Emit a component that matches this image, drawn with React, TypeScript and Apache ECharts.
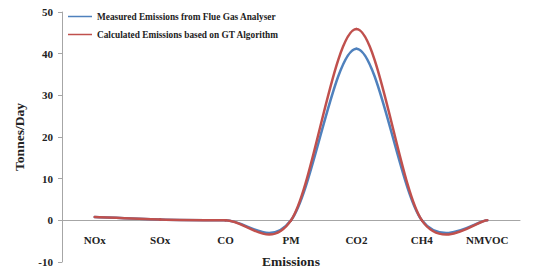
import React, { useEffect, useRef } from "react";
import * as echarts from "echarts";

const categories = ["NOx", "SOx", "CO", "PM", "CO2", "CH4", "NMVOC"];
const measured = [0.8, 0.2, 0, 0, 41.2, 0, 0];
const calculated = [0.8, 0.2, 0, 0, 45.9, 0, 0];
const seriesNames = [
  "Measured Emissions from Flue Gas Analyser",
  "Calculated Emissions based on GT Algorithm",
];
const seriesColors = ["#4F81BD", "#C0504D"];
const yMin = -10;
const yMax = 50;
const yInterval = 10;

const FONT = '"Liberation Serif", "Times New Roman", serif';
const W = 539;
const H = 271;
const GRID = { left: 62, right: 19, top: 12, bottom: 9 };

function makeSmoothSeries(name: string, values: number[], color: string) {
  const n = values.length;
  return {
    name,
    type: "custom",
    data: values.map((v, i) => [i, v]),
    itemStyle: { color },
    encode: { x: 0, y: 1 },
    renderItem: (params: any, api: any) => {
      const i = params.dataIndex;
      if (i >= n - 1) return null;
      const pt = (k: number) => {
        const kk = Math.max(0, Math.min(n - 1, k));
        return api.coord([kk, values[kk]]);
      };
      const p0 = pt(i - 1);
      const p1 = pt(i);
      const p2 = pt(i + 1);
      const p3 = pt(i + 2);
      const t = 1 / 6;
      return {
        type: "bezierCurve",
        shape: {
          x1: p1[0],
          y1: p1[1],
          cpx1: p1[0] + (p2[0] - p0[0]) * t,
          cpy1: p1[1] + (p2[1] - p0[1]) * t,
          cpx2: p2[0] - (p3[0] - p1[0]) * t,
          cpy2: p2[1] - (p3[1] - p1[1]) * t,
          x2: p2[0],
          y2: p2[1],
        },
        style: { stroke: color, lineWidth: 2.5, fill: null, lineCap: "round" },
      };
    },
  };
}

export default function App() {
  const ref = useRef<HTMLDivElement>(null);
  useEffect(() => {
    if (!ref.current) return;
    const chart = echarts.init(ref.current, undefined, { renderer: "svg" });
    const gridH = H - GRID.top - GRID.bottom;
    const zeroOffset = -gridH * ((0 - yMin) / (yMax - yMin));
    chart.setOption({
      animation: false,
      backgroundColor: "#ffffff",
      textStyle: { fontFamily: FONT },
      grid: { ...GRID, containLabel: false, outerBoundsMode: "none" },
      legend: {
        orient: "vertical",
        left: 68,
        top: 12,
        padding: 0,
        itemWidth: 24,
        itemHeight: 1.5,
        itemGap: 9,
        icon: "rect",
        textStyle: { fontFamily: FONT, fontWeight: "bold", fontSize: 9.3, color: "#222" },
        data: seriesNames.map((s, i) => ({ name: s, itemStyle: { color: seriesColors[i] } })),
      },
      xAxis: {
        type: "category",
        data: categories,
        boundaryGap: true,
        position: "bottom",
        offset: zeroOffset,
        axisLine: { onZero: false, lineStyle: { color: "#a6a6a6", width: 1 } },
        axisTick: { show: false },
        axisLabel: { fontFamily: FONT, fontWeight: "bold", fontSize: 11, color: "#222", margin: 14 },
        name: "Emissions",
        nameLocation: "middle",
        nameGap: 34,
        nameTextStyle: { fontFamily: FONT, fontWeight: "bold", fontSize: 13.5, color: "#222" },
        splitLine: { show: false },
      },
      yAxis: {
        type: "value",
        min: yMin,
        max: yMax,
        interval: yInterval,
        axisLine: { show: true, onZero: false, lineStyle: { color: "#a6a6a6", width: 1 } },
        axisTick: { show: true, inside: false, length: 4, lineStyle: { color: "#a6a6a6" } },
        axisLabel: { fontFamily: FONT, fontWeight: "bold", fontSize: 11, color: "#222", margin: 9 },
        splitLine: { show: false },
        name: "Tonnes/Day",
        nameLocation: "middle",
        nameGap: 36,
        nameTextStyle: { fontFamily: FONT, fontWeight: "bold", fontSize: 13.5, color: "#222" },
      },
      series: [
        makeSmoothSeries(seriesNames[0], measured, seriesColors[0]),
        makeSmoothSeries(seriesNames[1], calculated, seriesColors[1]),
      ],
    });
    return () => chart.dispose();
  }, []);
  return <div ref={ref} style={{ width: W, height: H, position: "absolute", left: 0, top: 0 }} />;
}
